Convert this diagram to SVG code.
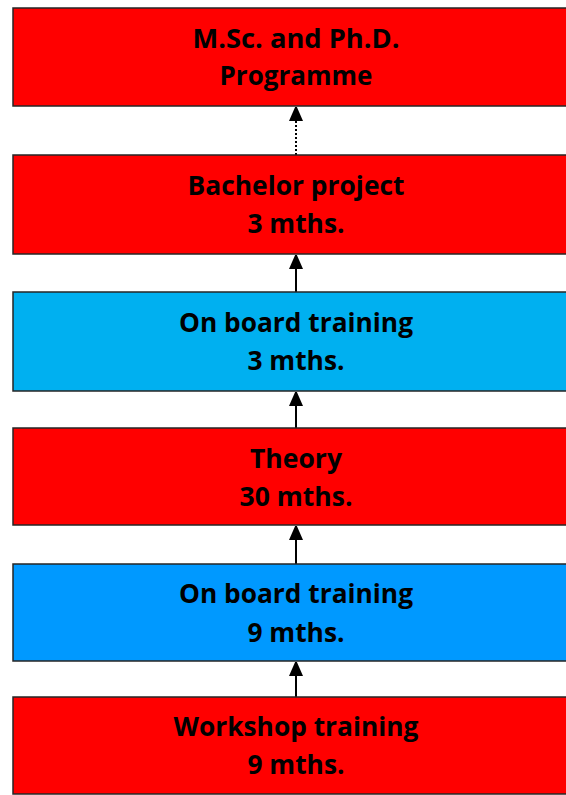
<svg xmlns="http://www.w3.org/2000/svg" width="566" height="795" viewBox="0 0 566 795">
<defs>
<style>
.box{stroke:#262626;stroke-width:1.5}
.red{fill:#FF0000}
.cyan{fill:#00B0F0}
.blue{fill:#0099FF}
.t{font-family:"Open Sans","Liberation Sans",sans-serif;font-weight:bold;font-size:27px;fill:#000;text-anchor:middle}
.c{stroke:#000;stroke-width:2;fill:none}
.d{stroke-dasharray:2 2}
</style>
<marker id="ah" viewBox="0 0 14 16" refX="14" refY="7" markerWidth="14" markerHeight="16" markerUnits="userSpaceOnUse" orient="auto">
<path d="M0,0 L16,7 L0,14 Z" fill="#000"/>
</marker>
</defs>
<rect width="566" height="795" fill="#fff"/>
<g id="connectors">
<line class="c d" x1="296" y1="155" x2="296" y2="107" marker-end="url(#ah)"/>
<line class="c" x1="296" y1="292" x2="296" y2="255" marker-end="url(#ah)"/>
<line class="c" x1="296" y1="428" x2="296" y2="392" marker-end="url(#ah)"/>
<line class="c" x1="296" y1="564" x2="296" y2="526" marker-end="url(#ah)"/>
<line class="c" x1="296" y1="697" x2="296" y2="662" marker-end="url(#ah)"/>
</g>
<g id="msc">
<rect class="box red" x="13" y="8" width="560" height="98"/>
<text class="t" x="296" y="48" textLength="207" lengthAdjust="spacingAndGlyphs">M.Sc. and Ph.D.</text>
<text class="t" x="296" y="85" textLength="153" lengthAdjust="spacingAndGlyphs">Programme</text>
</g>
<g id="bachelor">
<rect class="box red" x="13" y="155" width="560" height="99"/>
<text class="t" x="296" y="195" textLength="217" lengthAdjust="spacingAndGlyphs">Bachelor project</text>
<text class="t" x="296" y="233" textLength="97" lengthAdjust="spacingAndGlyphs">3 mths.</text>
</g>
<g id="onboard3">
<rect class="box cyan" x="13" y="292" width="560" height="99"/>
<text class="t" x="296" y="332" textLength="234" lengthAdjust="spacingAndGlyphs">On board training</text>
<text class="t" x="296" y="370" textLength="97" lengthAdjust="spacingAndGlyphs">3 mths.</text>
</g>
<g id="theory">
<rect class="box red" x="13" y="428" width="560" height="97"/>
<text class="t" x="296" y="468" textLength="92" lengthAdjust="spacingAndGlyphs">Theory</text>
<text class="t" x="296" y="506" textLength="113" lengthAdjust="spacingAndGlyphs">30 mths.</text>
</g>
<g id="onboard9">
<rect class="box blue" x="13" y="564" width="560" height="97"/>
<text class="t" x="296" y="603" textLength="234" lengthAdjust="spacingAndGlyphs">On board training</text>
<text class="t" x="296" y="642" textLength="97" lengthAdjust="spacingAndGlyphs">9 mths.</text>
</g>
<g id="workshop">
<rect class="box red" x="13" y="697" width="560" height="97"/>
<text class="t" x="296" y="736" textLength="245" lengthAdjust="spacingAndGlyphs">Workshop training</text>
<text class="t" x="296" y="774" textLength="97" lengthAdjust="spacingAndGlyphs">9 mths.</text>
</g>
</svg>
